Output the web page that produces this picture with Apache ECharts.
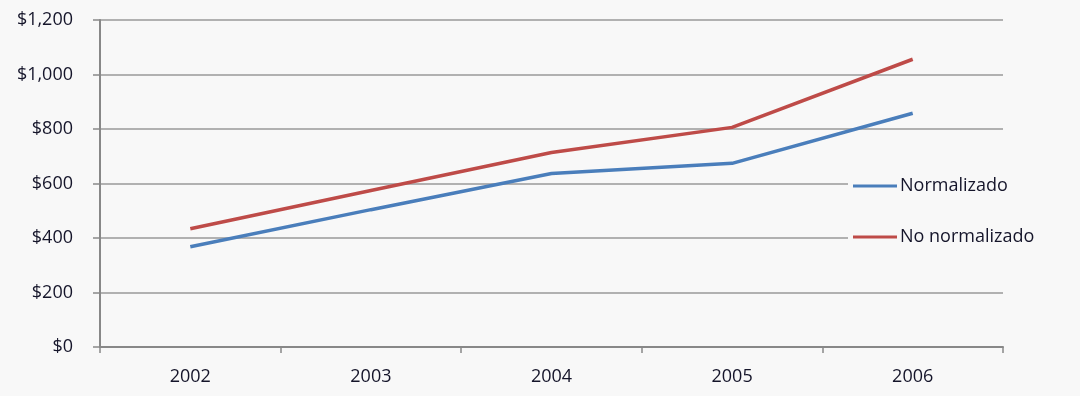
<!DOCTYPE html>
<html>
<head>
<meta charset="utf-8">
<script src="https://cdn.jsdelivr.net/npm/echarts@6/dist/echarts.min.js"></script>
<style>
html,body{margin:0;padding:0;background:#f8f8f8;}
#c{width:1080px;height:396px;}
</style>
</head>
<body>
<div id="c"></div>
<script>
const categories = ['2002', '2003', '2004', '2005', '2006'];
const normalizado = [368, 504, 637, 674, 858];
const noNormalizado = [434, 574, 714, 806, 1056];
const seriesNames = ['Normalizado', 'No normalizado'];

const textColor = '#15152a';
const font = 'Open Sans';
const chart = echarts.init(document.getElementById('c'), null, {renderer: 'canvas'});
chart.setOption({
  backgroundColor: '#f8f8f8',
  animation: false,
  grid: {left: 100, right: 77, top: 20, bottom: 49, containLabel: false},
  legend: {
    orient: 'vertical',
    left: 848,
    top: 171,
    padding: [5, 10, 5, 5],
    backgroundColor: '#f8f8f8',
    itemWidth: 44,
    itemHeight: 3,
    itemGap: 31,
    icon: 'rect',
    textStyle: {color: textColor, fontFamily: font, fontSize: 18, lineHeight: 20, padding: [0, 0, 0, -2]},
    data: seriesNames
  },
  xAxis: {
    type: 'category',
    data: categories,
    boundaryGap: true,
    axisLine: {lineStyle: {color: '#888888', width: 2}},
    axisTick: {show: true, length: 6, lineStyle: {color: '#888888', width: 1.5}},
    axisLabel: {color: textColor, fontFamily: font, fontSize: 18, margin: 21}
  },
  yAxis: {
    type: 'value',
    min: 0,
    max: 1200,
    interval: 200,
    axisLine: {show: true, lineStyle: {color: '#888888', width: 2}},
    axisTick: {show: true, length: 7, lineStyle: {color: '#888888', width: 1.5}},
    splitLine: {show: true, lineStyle: {color: '#9a9a9a', width: 1.5}},
    axisLabel: {
      color: textColor, fontFamily: font, fontSize: 18, margin: 27,
      formatter: v => '$' + v.toLocaleString('en-US')
    }
  },
  series: [
    {
      name: seriesNames[0], type: 'line', data: normalizado,
      symbol: 'none', lineStyle: {color: '#4a7ebb', width: 3.5}, itemStyle: {color: '#4a7ebb'}, z: 3
    },
    {
      name: seriesNames[1], type: 'line', data: noNormalizado,
      symbol: 'none', lineStyle: {color: '#be4b48', width: 3.5}, itemStyle: {color: '#be4b48'}, z: 3
    }
  ]
});
</script>
</body>
</html>
